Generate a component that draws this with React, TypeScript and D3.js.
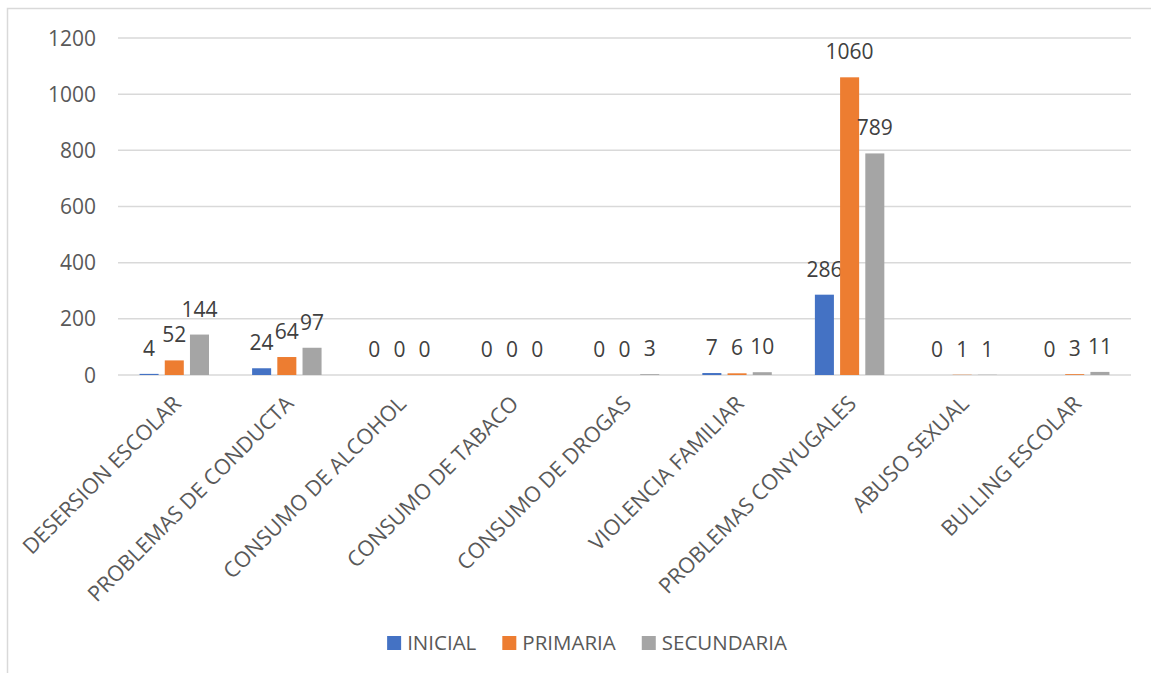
import { useEffect, useRef } from 'react'
import * as d3 from 'd3'

const categories = [
  'DESERSION ESCOLAR',
  'PROBLEMAS DE CONDUCTA',
  'CONSUMO DE ALCOHOL',
  'CONSUMO DE TABACO',
  'CONSUMO DE DROGAS',
  'VIOLENCIA FAMILIAR',
  'PROBLEMAS CONYUGALES',
  'ABUSO SEXUAL',
  'BULLING ESCOLAR',
]
const seriesNames = ['INICIAL', 'PRIMARIA', 'SECUNDARIA']
const inicial = [4, 24, 0, 0, 0, 7, 286, 0, 0]
const primaria = [52, 64, 0, 0, 0, 6, 1060, 1, 3]
const secundaria = [144, 97, 0, 0, 3, 10, 789, 1, 11]
const yTicks = [0, 200, 400, 600, 800, 1000, 1200]
const colors = ['#4472C4', '#ED7D31', '#A5A5A5']

const W = 1151
const H = 673
const FONT = '"Open Sans", sans-serif'

export default function App() {
  const svgRef = useRef<SVGSVGElement>(null)

  useEffect(() => {
    const svg = d3.select(svgRef.current)
    svg.selectAll('*').remove()

    const margin = { top: 38, left: 118, right: 20, bottom: 298 }
    const innerW = W - margin.left - margin.right
    const innerH = H - margin.top - margin.bottom

    // chart frame (only left/top visible in the crop)
    svg.append('rect')
      .attr('x', 7.5).attr('y', 8.5)
      .attr('width', W + 20).attr('height', H + 20)
      .attr('fill', '#fff').attr('stroke', '#D9D9D9').attr('stroke-width', 1.5)

    const g = svg.append('g').attr('transform', `translate(${margin.left},${margin.top})`)

    const x0 = d3.scaleBand<string>().domain(categories).range([0, innerW])
      .paddingInner(0.383).paddingOuter(0.383 / 2)
    const x1 = d3.scaleBand<string>().domain(seriesNames).range([0, x0.bandwidth()])
      .paddingInner(0.245)
    const y = d3.scaleLinear().domain([0, 1200]).range([innerH, 0])

    // gridlines
    g.append('g')
      .selectAll('line')
      .data(yTicks)
      .join('line')
      .attr('x1', 0).attr('x2', innerW)
      .attr('y1', d => y(d)).attr('y2', d => y(d))
      .attr('stroke', '#D9D9D9').attr('stroke-width', 1.5)

    // y tick labels
    g.append('g')
      .selectAll('text')
      .data(yTicks)
      .join('text')
      .attr('x', -22)
      .attr('y', d => y(d))
      .attr('dy', '0.36em')
      .attr('text-anchor', 'end')
      .style('font-family', FONT).style('font-size', '21px').style('fill', '#595959')
      .text(d => d)

    const series = [inicial, primaria, secundaria]

    series.forEach((vals, si) => {
      const name = seriesNames[si]
      const sg = g.append('g')
      sg.selectAll('rect')
        .data(vals)
        .join('rect')
        .attr('x', (_, i) => (x0(categories[i]) ?? 0) + (x1(name) ?? 0))
        .attr('width', x1.bandwidth())
        .attr('y', d => y(d))
        .attr('height', d => innerH - y(d))
        .attr('fill', colors[si])

      sg.selectAll('text')
        .data(vals)
        .join('text')
        .attr('x', (_, i) => (x0(categories[i]) ?? 0) + (x1(name) ?? 0) + x1.bandwidth() / 2)
        .attr('y', d => y(d) - 18)
        .attr('text-anchor', 'middle')
        .style('font-family', FONT).style('font-size', '21px').style('fill', '#404040')
        .text(d => d)
    })

    // category labels rotated -45
    g.append('g')
      .selectAll('text')
      .data(categories)
      .join('text')
      .attr('transform', d => {
        const cx = (x0(d) ?? 0) + x0.bandwidth() / 2 + 8
        const cy = innerH + 30
        return `translate(${cx},${cy}) rotate(-45)`
      })
      .attr('text-anchor', 'end')
      .style('font-family', FONT).style('font-size', '21.5px').style('fill', '#595959')
      .text(d => d)

    // legend
    const legend = svg.append('g')
    const items = legend.selectAll('g')
      .data(seriesNames)
      .join('g')
    items.append('rect')
      .attr('width', 14).attr('height', 14)
      .attr('y', -14)
      .attr('fill', (_, i) => colors[i])
    const labels = items.append('text')
      .attr('x', 20)
      .attr('y', 0)
      .style('font-family', FONT).style('font-size', '20.5px').style('fill', '#595959')
      .text(d => d)

    const widths: number[] = []
    labels.each(function () {
      widths.push((this as SVGTextElement).getComputedTextLength())
    })
    const gap = 26
    const total = widths.reduce((a, w) => a + 20 + w, 0) + gap * (widths.length - 1)
    let cur = 587 - total / 2
    items.attr('transform', (_, i) => {
      const t = `translate(${cur},650)`
      cur += 20 + widths[i] + gap
      return t
    })
  }, [])

  return (
    <svg
      ref={svgRef}
      width={W}
      height={H}
      style={{ position: 'fixed', left: 0, top: 0, background: '#fff' }}
    />
  )
}
